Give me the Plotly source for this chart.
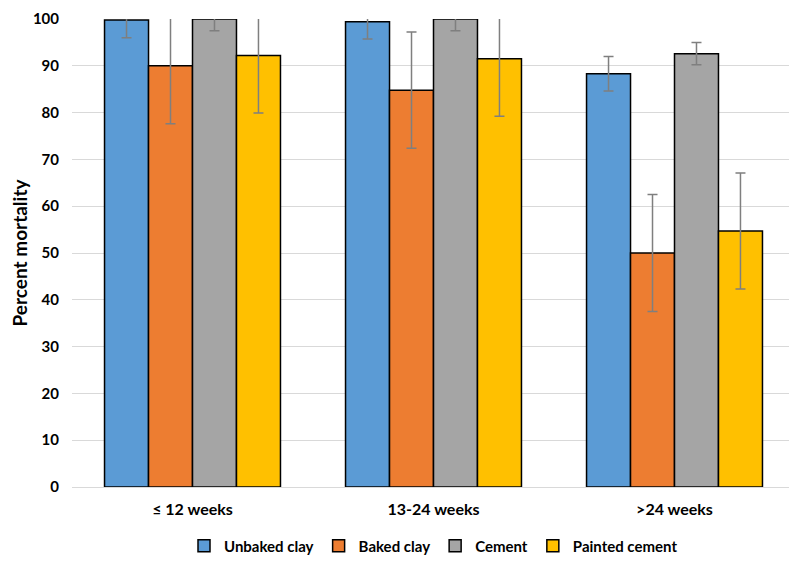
import plotly.graph_objects as go

categories = ["≤ 12 weeks", "13-24 weeks", ">24 weeks"]
series_names = ["Unbaked clay", "Baked clay", "Cement", "Painted cement"]
unbaked_clay = [99.8, 99.4, 88.3]
baked_clay = [90.0, 84.8, 50.0]
cement = [100.0, 100.0, 92.6]
painted_cement = [92.2, 91.5, 54.7]
unbaked_err = [3.8, 3.7, 3.7]
baked_err = [12.4, 12.4, 12.5]
cement_err = [2.5, 2.5, 2.4]
painted_err = [12.3, 12.3, 12.4]
colors = ["#5B9BD5", "#ED7D31", "#A5A5A5", "#FFC000"]
y_ticks = [0, 10, 20, 30, 40, 50, 60, 70, 80, 90, 100]

values = [unbaked_clay, baked_clay, cement, painted_cement]
errors = [unbaked_err, baked_err, cement_err, painted_err]

fig = go.Figure()
for name, vals, errs, col in zip(series_names, values, errors, colors):
    fig.add_trace(go.Bar(
        x=categories, y=vals, name=name,
        marker=dict(color=col, line=dict(color="#000000", width=1.5)),
        error_y=dict(type="data", array=errs, visible=True,
                     color="#7F7F7F", thickness=1.5, width=5),
    ))

fig.update_layout(
    width=789, height=561,
    barmode="group", bargap=0.27, bargroupgap=0,
    plot_bgcolor="white", paper_bgcolor="white",
    margin=dict(l=64, r=2, t=11, b=82, autoexpand=False),
    font=dict(family="Lato", size=14, color="#000000"),
    showlegend=True,
    legend=dict(orientation="h", x=0.5, xanchor="center",
                yref="container", y=0.041, yanchor="middle",
                font=dict(family="Lato", size=15, color="#000000", weight="bold"),
                traceorder="normal", itemwidth=30),
    xaxis=dict(showgrid=False, showline=True, linecolor="#D9D9D9", linewidth=1,
               automargin=False, ticklabeloverflow="allow",
               tickfont=dict(family="Lato", size=16, color="#000000", weight="bold"),
               ticks="", ticklabelstandoff=8),
    yaxis=dict(range=[0, 100], tickvals=y_ticks, showgrid=True, gridcolor="#D9D9D9",
               gridwidth=1, zeroline=False, showline=False, ticks="",
               automargin=False, ticklabelstandoff=12, ticklabeloverflow="allow",
               tickfont=dict(family="Lato", size=15, color="#000000", weight="bold"),
               title=dict(text="Percent mortality", standoff=24,
                          font=dict(family="Lato", size=19, color="#000000", weight="bold"))),
)

fig.write_html("out.html")
